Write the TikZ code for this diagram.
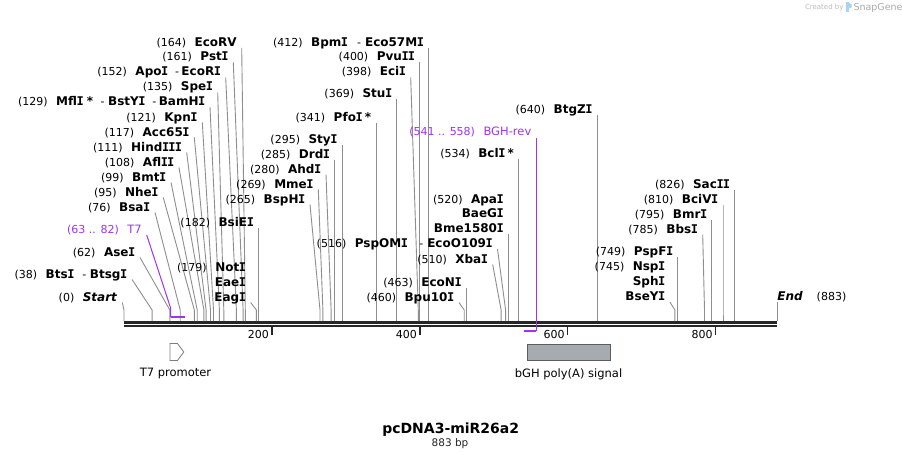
\documentclass[tikz,border=0pt]{standalone}
\usepackage{fontspec}
\setmainfont{DejaVu Sans}
\newfontfamily\monofam{DejaVu Sans Mono}
\definecolor{cutgray}{HTML}{8E8E8E}
\definecolor{primer}{HTML}{A033F0}
\definecolor{bbcol}{HTML}{262626}
\definecolor{featfill}{HTML}{A6ABB2}
\definecolor{featline}{HTML}{5C5C5C}
\definecolor{wm}{HTML}{BDBDBD}
\definecolor{wmblue}{HTML}{A8D4F2}
\newcommand\nmf{\fontsize{11}{13}\selectfont}
\newcommand\bnf{\fontsize{12}{14}\selectfont\bfseries}
\newcommand\sI{{\monofam\bfseries\kern-0.4pt I\kern-0.4pt}}
\newcommand\nm[1]{{\nmf(#1)}\hspace{8.5pt}}
\newcommand\bn[1]{{\bnf #1}}
\newcommand\dsh[2]{\hspace{#1pt}{\nmf-}\hspace{#2pt}}
\newcommand\myenz[5]{%
  \node[lab, anchor=base east] (L#1) at ({#2-5},{#3+4}) {#4};
  \coordinate (T#1) at (#2,{#3+5.5});
  \coordinate (B#1) at (#5,310);
  \coordinate (S#1) at (#5,321);
  \draw[cutline] (T#1) -- (B#1) -- (S#1);
}
\begin{document}
\begin{tikzpicture}[x=1pt,y=-1pt,
  lab/.style={inner sep=0pt, outer sep=0pt, text=black},
  cutline/.style={draw=cutgray, line width=0.9pt},
  primerline/.style={draw=primer, line width=1pt},
  primerbar/.style={draw=primer, line width=2.2pt},
  backbone/.style={draw=bbcol, line width=2.6pt},
  tickmark/.style={draw=bbcol, line width=1.4pt},
  feat/.style={draw=featline, line width=0.8pt}]
\useasboundingbox[fill=white] (0,0) rectangle (902,460);

% backbone
\coordinate (bbL1) at (124,322.3);
\coordinate (bbR1) at (777,322.3);
\coordinate (bbL2) at (124,325.9);
\coordinate (bbR2) at (777,325.9);
\draw[backbone] (bbL1) -- (bbR1);
\draw[backbone] (bbL2) -- (bbR2);

% ticks
\foreach \v/\xx in {200/271.9, 400/419.8, 600/567.7, 800/715.6}{
  \coordinate (tk\v a) at (\xx,327);
  \coordinate (tk\v b) at (\xx,335);
  \draw[tickmark] (tk\v a) -- (tk\v b);
  \node[lab, anchor=base east, font=\nmf] (tl\v) at ({\xx-3},338) {\v};
}

% start / end
\myenz{a0}{122.3}{297}{\nm{0}\bn{\textit{Start}}}{124}
\node[lab, anchor=base west] (Lend) at (777.3,300.7) {\bn{\textit{End}}\hspace{14pt}{\nmf(883)}};
\coordinate (Tend) at (777.3,302);
\coordinate (Send) at (777.3,321);
\draw[cutline] (Tend) -- (Send);

% left cluster
\myenz{a38}{132}{274}{\nm{38}\bn{Bts\sI}\dsh{8.3}{3.5}\bn{Btsg\sI}}{152.1}
\myenz{a62}{140}{252}{\nm{62}\bn{Ase\sI}}{169.8}
\myenz{a76}{155}{207}{\nm{76}\bn{Bsa\sI}}{180.2}
\myenz{a95}{163.3}{192}{\nm{95}\bn{Nhe\sI}}{194.3}
\myenz{a99}{171}{177}{\nm{99}\bn{Bmt\sI}}{197.2}
\myenz{a108}{179}{162}{\nm{108}\bn{Afl\sI\sI}}{203.9}
\myenz{a111}{186.7}{147}{\nm{111}\bn{Hind\sI\sI\sI}}{206.1}
\myenz{a117}{194.3}{132}{\nm{117}\bn{Acc65\sI}}{210.5}
\myenz{a121}{202.3}{117}{\nm{121}\bn{Kpn\sI}}{213.5}
\myenz{a129}{210}{101.7}{\nm{129}\bn{Mfl\sI}\hspace{3.5pt}\bn{*}\dsh{7.5}{3.5}\bn{BstY\sI}\dsh{7}{2.5}\bn{BamH\sI}}{219.4}
\myenz{a135}{217.7}{87}{\nm{135}\bn{Spe\sI}}{223.8}
\myenz{a152}{225.7}{72}{\nm{152}\bn{Apo\sI}\dsh{7}{2.5}\bn{EcoR\sI}}{236.4}
\myenz{a161}{233.3}{57}{\nm{161}\bn{Pst\sI}}{243.1}
\myenz{a164}{241.7}{42.3}{\nm{164}\bn{EcoRV}}{245.3}
\node[lab, anchor=base east] (La179a) at (245.7,271) {\nm{179}\bn{Not\sI}};
\node[lab, anchor=base east] (La179b) at (245.7,286) {\bn{Eae\sI}};
\myenz{a179}{250.7}{297}{\bn{Eag\sI}}{256.4}
\myenz{a182}{258.6}{222}{\nm{182}\bn{BsiE\sI}}{258.6}

% T7 primer
\node[lab, anchor=base east, text=primer] (Lt7) at (141.7,233.3) {{\nmf(63 .. 82)}\hspace{8.5pt}{\fontsize{11.5}{13}\selectfont T7}};
\coordinate (Tt7) at (146.7,235);
\coordinate (Bt7) at (170.6,308);
\coordinate (St7) at (170.6,317.3);
\coordinate (Et7) at (184.6,317.3);
\draw[primerline] (Tt7) -- (Bt7) -- (St7);
\draw[primerbar] (St7) -- (Et7);

% middle cluster
\myenz{a265}{310}{199}{\nm{265}\bn{BspH\sI}}{320}
\myenz{a269}{318.3}{184}{\nm{269}\bn{Mme\sI}}{322.9}
\myenz{a280}{326}{169}{\nm{280}\bn{Ahd\sI}}{331.1}
\myenz{a285}{334.8}{154}{\nm{285}\bn{Drd\sI}}{334.8}
\myenz{a295}{342.2}{139}{\nm{295}\bn{Sty\sI}}{342.2}
\myenz{a341}{376.2}{117.3}{\nm{341}\bn{Pfo\sI}\hspace{2.5pt}\bn{*}}{376.2}
\myenz{a369}{396.9}{93.3}{\nm{369}\bn{Stu\sI}}{396.9}
\myenz{a398}{410.7}{72}{\nm{398}\bn{Eci\sI}}{418.3}
\myenz{a400}{419.8}{57}{\nm{400}\bn{Pvu\sI\sI}}{419.8}
\myenz{a412}{428.7}{42.3}{\nm{412}\bn{Bpm\sI}\dsh{9.3}{4}\bn{Eco57M\sI}}{428.7}
\myenz{a460}{459}{297}{\nm{460}\bn{Bpu10\sI}}{464.2}
\myenz{a463}{466.4}{282}{\nm{463}\bn{EcoN\sI}}{466.4}
\myenz{a510}{492.7}{259}{\nm{510}\bn{Xba\sI}}{501.1}
\myenz{a516}{497.5}{243.7}{\nm{516}\bn{PspOM\sI}\dsh{11.6}{4}\bn{EcoO109\sI}}{505.6}
\node[lab, anchor=base east] (La520a) at (503.5,203) {\nm{520}\bn{Apa\sI}};
\node[lab, anchor=base east] (La520b) at (503.5,217.5) {\bn{BaeG\sI}};
\myenz{a520}{508.5}{228.7}{\bn{Bme1580\sI}}{508.5}
\myenz{a534}{518.9}{153}{\nm{534}\bn{Bcl\sI}\hspace{2.5pt}\bn{*}}{518.9}

% BGH-rev primer
\node[lab, anchor=base east, text=primer] (Lbgh) at (531.3,135.7) {{\nmf(541 .. 558)}\hspace{8.5pt}{\fontsize{11.5}{13}\selectfont BGH-rev}};
\coordinate (Tbgh) at (536.3,137.5);
\coordinate (Sbgh) at (536.3,330.7);
\coordinate (Ebgh) at (523.5,330.7);
\draw[primerline] (Tbgh) -- (Sbgh);
\draw[primerbar] (Sbgh) -- (Ebgh);

% right cluster
\myenz{a640}{597.3}{109}{\nm{640}\bn{BtgZ\sI}}{597.3}
\node[lab, anchor=base east] (La745a) at (665,270.7) {\nm{745}\bn{Nsp\sI}};
\node[lab, anchor=base east] (La745b) at (665,285.7) {\bn{Sph\sI}};
\myenz{a745}{670}{296.7}{\bn{BseY\sI}}{674.9}
\myenz{a749}{677.9}{251.7}{\nm{749}\bn{PspF\sI}}{677.9}
\myenz{a785}{702.7}{229}{\nm{785}\bn{Bbs\sI}}{704.5}
\myenz{a795}{711.9}{214}{\nm{795}\bn{Bmr\sI}}{711.9}
\myenz{a810}{723}{199}{\nm{810}\bn{BciV\sI}}{723}
\myenz{a826}{734.8}{184}{\nm{826}\bn{Sac\sI\sI}}{734.8}

% features
\draw[feat, draw=featline!80, fill=white] (170,343.5) -- (177.5,343.5) -- (183.8,352) -- (177.5,360.5) -- (170,360.5) -- cycle;
\node[lab, font=\fontsize{11.5}{13}\selectfont] (ft7) at (175.5,374) {T7 promoter};
\draw[feat, fill=featfill] (527.5,344.5) rectangle (610.5,360.5);
\node[lab, font=\fontsize{11.5}{13}\selectfont] (fbgh) at (568.5,374) {bGH poly(A) signal};

% title
\node[lab, font=\fontsize{14}{16}\selectfont\bfseries] (title) at (450.7,430) {pcDNA3-miR26a2};
\node[lab, font=\fontsize{10.5}{12}\selectfont, text=bbcol] (size) at (450,444) {883 bp};

% watermark
\node[lab, anchor=base west, font=\fontsize{7}{8}\selectfont, text=wm] (wm1) at (805,10) {Created by};
\fill[wmblue] (845.5,2.5) rectangle (848.5,12);
\fill[wmblue] (848.5,2.5) -- (851.5,4.5) -- (851.5,7.5) -- (848.5,8.5) -- cycle;
\node[lab, anchor=base west, font=\fontsize{9.5}{11}\selectfont, text=wm!90!black] (wm2) at (853.5,11) {SnapGene};
\end{tikzpicture}
\end{document}
